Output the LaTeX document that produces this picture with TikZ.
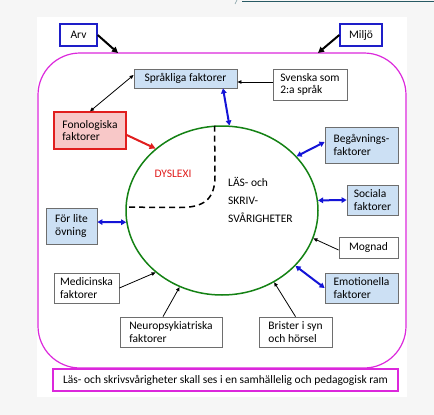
\documentclass[tikz,border=0pt]{standalone}
\usepackage{fontspec}
\setmainfont{Carlito}
\usetikzlibrary{shapes.geometric,arrows.meta}
\definecolor{bgc}{RGB}{246,246,246}
\definecolor{lblue}{RGB}{204,224,244}
\definecolor{pinkf}{RGB}{248,200,200}
\definecolor{redb}{RGB}{225,30,30}
\definecolor{boxgray}{RGB}{110,110,110}
\definecolor{mag}{RGB}{220,40,220}
\definecolor{bluec}{RGB}{30,30,200}
\definecolor{arrblue}{RGB}{20,20,215}
\definecolor{greenc}{RGB}{20,130,20}
\definecolor{teal}{RGB}{40,90,100}
\tikzset{
  txt/.style={font=\fontsize{11.5}{12.5}\selectfont},
  box/.style={draw=boxgray, line width=0.8pt, txt, align=left, inner sep=2pt},
  bluebox/.style={box, fill=lblue},
  topbox/.style={draw=bluec, line width=1.4pt, txt, inner sep=2pt, minimum width=#1, minimum height=22pt},
  blkthin/.style={draw=black, line width=0.8pt, -{Triangle[length=4pt,width=3.5pt]}},
  blkthinboth/.style={draw=black, line width=0.8pt, {Triangle[length=4pt,width=3.5pt]}-{Triangle[length=4pt,width=3.5pt]}},
  blkthick/.style={draw=black, line width=2pt, -{Triangle[length=6pt,width=6pt]}},
  blueboth/.style={draw=arrblue, line width=2pt, {Triangle[length=5pt,width=5.5pt]}-{Triangle[length=5pt,width=5.5pt]}},
  redarrow/.style={draw=redb, line width=2pt, -{Triangle[length=6pt,width=6pt]}},
}
\begin{document}
\begin{tikzpicture}[x=1pt,y=-1pt]
\useasboundingbox (0,0) rectangle (434,415);
\fill[bgc] (0,0) rectangle (434,415);
\fill[white] (37,17) rectangle (407,397);
\draw[teal, line width=0.8pt] (242,1.5) -- (434,1.5);
\draw[teal!60, line width=0.6pt] (235,4) -- (237,0);

% big frame
\draw[mag, line width=1.2pt, rounded corners=42pt] (38,53) rectangle (406,368);

% circle
\node[ellipse, draw=greenc, line width=1.5pt, minimum width=192pt, minimum height=169pt, inner sep=0pt] (circ) at (222,210.5) {};

% top boxes
\node[topbox=37pt] (arv) at (78.5,35) {Arv};
\node[topbox=42pt] (milj) at (361,35) {Miljö};
\coordinate (arvend) at (118,53);
\coordinate (miljend) at (318,53);
\draw[blkthick] (arv.east) -- (arvend);
\draw[blkthick] (milj.west) -- (miljend);

% boxes
\node[bluebox, minimum width=103pt, minimum height=19pt] (sprak) at (185.5,78.5) {Språkliga faktorer};
\node[box, minimum width=74pt, minimum height=31pt] (svenska) at (310,84.5) {Svenska som\\2:a språk};
\node[box, draw=redb, line width=1.4pt, fill=pinkf, minimum width=72pt, minimum height=37pt] (fono) at (90,130.5) {Fonologiska\\faktorer};
\node[bluebox, minimum width=73pt, minimum height=36pt] (beg) at (361.5,145) {Begåvnings-\\faktorer};
\node[bluebox, minimum width=51pt, minimum height=30pt] (soc) at (372.5,200) {Sociala\\faktorer};
\node[box, minimum width=59pt, minimum height=21pt] (mogn) at (368.5,247.5) {Mognad};
\node[bluebox, minimum width=73pt, minimum height=30pt] (emot) at (361.5,288) {Emotionella\\faktorer};
\node[bluebox, minimum width=51pt, minimum height=36pt] (ovn) at (71.5,226) {För lite\\övning};
\node[box, minimum width=65pt, minimum height=30pt] (med) at (86.5,288) {Medicinska\\faktorer};
\node[box, minimum width=102pt, minimum height=30pt] (neuro) at (171,332) {Neuropsykiatriska\\faktorer};
\node[box, minimum width=73pt, minimum height=30pt] (brist) at (295.5,332) {Brister i syn\\och hörsel};
\node[box, draw=mag, line width=1.2pt, minimum width=345pt, minimum height=22pt] (bottom) at (225.5,380) {Läs- och skrivsvårigheter skall ses i en samhällelig och pedagogisk ram};

% inner texts
\node[txt, text=redb] (dys) at (173,174) {DYSLEXI};
\node[font=\fontsize{11.5}{18}\selectfont, align=left, anchor=west, inner sep=0pt] (las) at (228,200) {LÄS- och\\SKRIV-\\SVÅRIGHETER};

% dashed boundary
\draw[black, line width=1.5pt, dash pattern=on 6pt off 4pt] (circ.95) -- (215,176) .. controls (215,200) and (203,207.5) .. (180,207.5) -- (circ.178.5);

% connectors
\draw[blkthin] ([yshift=2.5pt]svenska.west) -- ([yshift=-3.5pt]sprak.east);
\draw[blkthinboth] ([yshift=3.5pt]sprak.west) -- (fono.north);
\draw[blueboth] ([xshift=37.5pt]sprak.south) -- (circ.85);
\draw[redarrow] ([yshift=-4.5pt]fono.east) -- (circ.137);
\draw[blueboth] ([yshift=3pt]beg.west) -- (circ.36.5);
\draw[blueboth] (soc.west) -- (circ.6.5);
\draw[blkthin] ([yshift=-2.5pt]mogn.west) -- (circ.-17);
\draw[blueboth] (emot.west) -- (circ.-37.5);
\draw[blueboth] ([yshift=4pt]ovn.east) -- (circ.187);
\draw[blkthin] (med.east) -- (circ.223);
\draw[blkthin] ([xshift=-8pt]neuro.north) -- (circ.-119);
\draw[blkthin] (brist.north) -- (circ.-54);
\end{tikzpicture}
\end{document}
